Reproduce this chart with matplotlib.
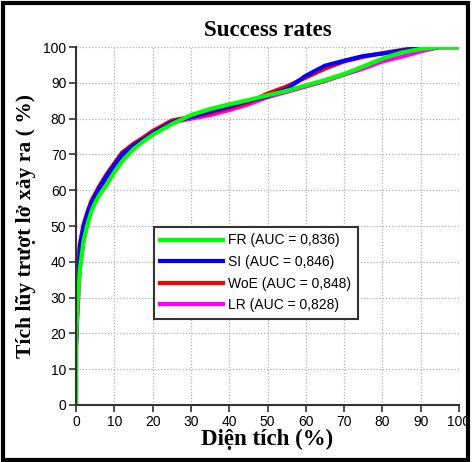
import matplotlib
matplotlib.use("Agg")
import matplotlib.pyplot as plt
from matplotlib.patches import Rectangle

# dien tich (%) - chung cho ca 4 duong
dien_tich = [0, 0, 0.5, 1, 2, 3, 4, 5, 6, 8, 10, 12, 15, 18, 20, 25, 30, 35,
             40, 45, 50, 55, 60, 65, 70, 75, 80, 85, 90, 95, 100]

fr = [0, 18, 30, 38, 46, 50.5, 54, 56.5, 58.5, 61.5, 65, 68, 71.5, 74, 75.5,
      78.5, 81, 82.7, 84, 85.2, 86.5, 87.8, 89.3, 90.8, 92.5, 94.6, 96.8,
      98.5, 99.5, 100, 100]
si = [0, 17, 33, 44, 50, 53.5, 56.5, 58.5, 60.5, 64, 67, 70, 72.5, 74.5, 76,
      79, 80.5, 82, 83.4, 85, 86.3, 88.3, 92, 94.8, 96.2, 97.5, 98.2, 99,
      99.8, 100, 100]
woe = [0, 16, 34, 45, 50.5, 54, 57, 59, 61, 64.5, 67.5, 70.5, 73, 75, 76.5,
       79.5, 80.5, 81.5, 83, 84.5, 87, 89, 91.5, 94, 96, 97.3, 98.3, 99.2,
       100, 100, 100]
lr = [0, 16, 28, 38, 46, 51, 54.5, 57, 59.5, 63.5, 67, 69.5, 72.5, 75, 76.5,
      79, 80, 81, 82.4, 84, 86, 87.5, 89, 90.5, 92.3, 94, 96, 97.3, 98.8,
      100, 100]

nhan = ["FR (AUC = 0,836)", "SI (AUC = 0,846)", "WoE (AUC = 0,848)",
        "LR (AUC = 0,828)"]
mau = ["#00ff00", "#0000ff", "#ff0000", "#ff00ff"]

fig = plt.figure(figsize=(4.72, 4.62), dpi=100)
ax = fig.add_axes([0.161, 0.1234, 0.8115, 0.7746])

# ve theo thu tu LR, WoE, SI, FR de FR nam tren cung
ax.plot(dien_tich, lr, color=mau[3], lw=3, label=nhan[3])
ax.plot(dien_tich, woe, color=mau[2], lw=3, label=nhan[2])
ax.plot(dien_tich, si, color=mau[1], lw=3, label=nhan[1])
ax.plot(dien_tich, fr, color=mau[0], lw=3, label=nhan[0])

ax.set_xlim(0, 100)
ax.set_ylim(0, 100)
ax.set_xticks(range(0, 101, 10))
ax.set_yticks(range(0, 101, 10))
ax.grid(True, color="#b0b0b0", linestyle=(0, (1, 1.5)), linewidth=0.9)
ax.set_axisbelow(True)
for s in ["top", "right"]:
    ax.spines[s].set_visible(False)
for s in ["left", "bottom"]:
    ax.spines[s].set_color("#333333")
    ax.spines[s].set_linewidth(1.5)
ax.tick_params(direction="out", length=5, width=1.2, color="#333333",
               labelsize=10, pad=2)
for t in ax.get_xticklabels() + ax.get_yticklabels():
    t.set_family("Liberation Sans")

ax.set_title("Success rates", family="Liberation Serif", fontweight="bold",
             fontsize=16.5, pad=8)
ax.set_xlabel("Diện tích (%)", family="Liberation Serif", fontweight="bold",
              fontsize=16.5, labelpad=0)
ax.set_ylabel("Tích lũy trượt lở xảy ra ( %)", family="Liberation Serif",
              fontweight="bold", fontsize=15.5, labelpad=5)

h, l = ax.get_legend_handles_labels()
leg = ax.legend(h[::-1], l[::-1], loc="upper left",
                bbox_to_anchor=(0.2037, 0.497), borderaxespad=0,
                prop={"family": "Liberation Sans", "size": 10},
                handlelength=4.5, handletextpad=0.4, labelspacing=0.55,
                borderpad=0.45, fancybox=False, framealpha=1,
                edgecolor="#333333")
leg.get_frame().set_linewidth(1.5)
for ln in leg.get_lines():
    ln.set_linewidth(3)

fig.patches.append(Rectangle((0.006, 0.005), 0.986, 0.988,
                             transform=fig.transFigure, fill=False,
                             edgecolor="black", linewidth=3))

fig.savefig("out.png", dpi=100)
